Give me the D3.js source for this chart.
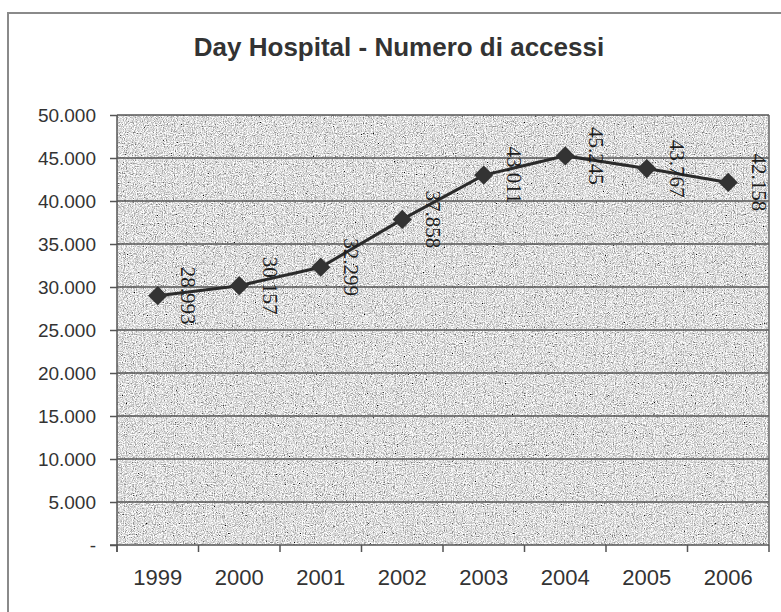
<!DOCTYPE html>
<html>
<head>
<meta charset="utf-8">
<script src="https://cdn.jsdelivr.net/npm/d3@7"></script>
<style>
  html, body { margin: 0; padding: 0; background: #fff; }
  svg { display: block; }
</style>
</head>
<body>
<svg id="chart" width="781" height="612"></svg>
<script>
// ---- data ----
const years = ["1999", "2000", "2001", "2002", "2003", "2004", "2005", "2006"];
const accessi = [28993, 30157, 32299, 37858, 43011, 45245, 43767, 42158];
const yTickValues = [0, 5000, 10000, 15000, 20000, 25000, 30000, 35000, 40000, 45000, 50000];
const yTickLabels = ["-", "5.000", "10.000", "15.000", "20.000", "25.000", "30.000", "35.000", "40.000", "45.000", "50.000"];
const title = "Day Hospital - Numero di accessi";

// ---- layout ----
const W = 781, H = 612;
const plot = { left: 117, right: 769, top: 115, bottom: 545 };

const svg = d3.select("#chart");

// texture filter (speckled grey, like the scanned original)
const defs = svg.append("defs");
const f = defs.append("filter").attr("id", "noise").attr("x", 0).attr("y", 0).attr("width", "100%").attr("height", "100%");
f.append("feTurbulence").attr("type", "fractalNoise").attr("baseFrequency", 0.9).attr("numOctaves", 2).attr("seed", 3).attr("result", "n");
f.append("feColorMatrix").attr("in", "n").attr("type", "matrix")
  .attr("values", "1 1 1 0 -0.78  1 1 1 0 -0.78  1 1 1 0 -0.78  0 0 0 0 1");

// outer frame
svg.append("path")
  .attr("d", `M8,${H} L8,13 L${W},13`)
  .attr("fill", "none").attr("stroke", "#8a8a8a").attr("stroke-width", 2);

// title
svg.append("text")
  .attr("x", 399).attr("y", 56)
  .attr("text-anchor", "middle")
  .attr("font-family", "Liberation Sans, Arial, sans-serif")
  .attr("font-weight", "bold")
  .attr("font-size", 26)
  .attr("fill", "#333")
  .text(title);

// scales
const x = d3.scaleBand().domain(years).range([plot.left, plot.right]).padding(0);
const y = d3.scaleLinear().domain([0, 50000]).range([plot.bottom, plot.top]);

// plot background
svg.append("rect")
  .attr("x", plot.left).attr("y", plot.top)
  .attr("width", plot.right - plot.left).attr("height", plot.bottom - plot.top)
  .attr("fill", "#bababa");
svg.append("rect")
  .attr("x", plot.left).attr("y", plot.top)
  .attr("width", plot.right - plot.left).attr("height", plot.bottom - plot.top)
  .attr("filter", "url(#noise)");

// gridlines
svg.append("g").selectAll("line")
  .data(yTickValues.filter(v => v > 0))
  .join("line")
  .attr("x1", plot.left).attr("x2", plot.right)
  .attr("y1", d => y(d)).attr("y2", d => y(d))
  .attr("stroke", "#555").attr("stroke-width", 1.5);

// right border of plot
svg.append("line")
  .attr("x1", plot.right).attr("x2", plot.right)
  .attr("y1", plot.top).attr("y2", plot.bottom)
  .attr("stroke", "#666").attr("stroke-width", 1.5);

// y axis
const yAxis = d3.axisLeft(y)
  .tickValues(yTickValues)
  .tickFormat((d, i) => yTickLabels[i])
  .tickSizeInner(7).tickSizeOuter(0).tickPadding(14);
const gy = svg.append("g").attr("transform", `translate(${plot.left},0)`).call(yAxis);
gy.selectAll("text")
  .attr("font-family", "Liberation Sans, Arial, sans-serif")
  .attr("font-size", 19).attr("fill", "#333");
gy.selectAll("line").attr("stroke", "#555").attr("stroke-width", 1.5);
gy.select(".domain").attr("stroke", "#555").attr("stroke-width", 1.5)
  .attr("d", `M0,${plot.top}V${plot.bottom + 7}`);

// x axis (labels)
const xAxis = d3.axisBottom(x).tickSize(0).tickPadding(24);
const gx = svg.append("g").attr("transform", `translate(0,${plot.bottom})`).call(xAxis);
gx.selectAll("text")
  .attr("font-family", "Liberation Sans, Arial, sans-serif")
  .attr("font-size", 22).attr("fill", "#333");
gx.select(".domain").attr("stroke", "#555").attr("stroke-width", 1.5)
  .attr("d", `M${plot.left - 7},0H${plot.right}`);
// x ticks at band boundaries
const bounds = years.map(d => x(d)).concat([x(years[years.length - 1]) + x.bandwidth()]);
gx.append("g").selectAll("line")
  .data(bounds)
  .join("line")
  .attr("x1", d => d).attr("x2", d => d)
  .attr("y1", 0).attr("y2", 7)
  .attr("stroke", "#555").attr("stroke-width", 1.5);

// line
const pts = years.map((d, i) => ({ year: d, value: accessi[i] }));
const cx = d => x(d.year) + x.bandwidth() / 2;
svg.append("path")
  .datum(pts)
  .attr("fill", "none")
  .attr("stroke", "#2b2b2b")
  .attr("stroke-width", 3)
  .attr("d", d3.line().x(cx).y(d => y(d.value)));

// markers (diamonds)
svg.append("g").selectAll("path")
  .data(pts)
  .join("path")
  .attr("d", d3.symbol(d3.symbolSquare, 185))
  .attr("transform", d => `translate(${cx(d)},${y(d.value)}) rotate(45)`)
  .attr("fill", "#333");

// data labels (rotated 90°)
const fmt = d3.formatLocale({ decimal: ",", thousands: ".", grouping: [3], currency: ["", "€"] }).format(",d");
svg.append("g").selectAll("text")
  .data(pts)
  .join("text")
  .attr("transform", d => `translate(${cx(d) + 31},${y(d.value)}) rotate(90)`)
  .attr("text-anchor", "middle")
  .attr("dy", "0.35em")
  .attr("font-family", "Liberation Serif, Times New Roman, serif")
  .attr("font-size", 21)
  .attr("fill", "#1e1e1e")
  .text(d => fmt(d.value));
</script>
</body>
</html>
